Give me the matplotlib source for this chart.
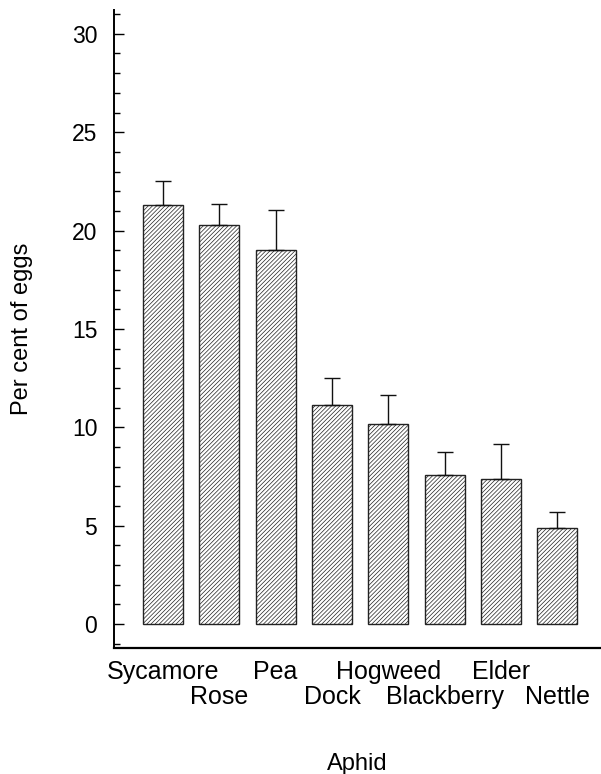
import matplotlib
matplotlib.use("Agg")
import matplotlib.pyplot as plt
from matplotlib.ticker import MultipleLocator

plt.rcParams['font.family'] = ['Liberation Sans', 'DejaVu Sans']
plt.rcParams['hatch.linewidth'] = 0.5
plt.rcParams['hatch.color'] = '#333333'

categories = ["Sycamore", "Rose", "Pea", "Dock", "Hogweed", "Blackberry", "Elder", "Nettle"]
values = [21.3, 20.3, 19.0, 11.15, 10.15, 7.55, 7.35, 4.9]
errors = [1.2, 1.05, 2.05, 1.35, 1.5, 1.2, 1.8, 0.8]

fig = plt.figure(figsize=(6.01, 7.74), dpi=100)
ax = fig.add_axes([0.1897, 0.1628, 0.808, 0.824])

x = list(range(len(categories)))
ax.bar(x, values, width=0.71, color='white', edgecolor='#222222',
       linewidth=1.0, hatch='////////', zorder=2)
ax.errorbar(x, values, yerr=[[0] * len(values), errors], fmt='none',
            ecolor='#111111', elinewidth=1.0, capsize=5.5, capthick=1.0, zorder=3)

ax.set_xlim(-0.869, 7.75)
ax.set_ylim(-1.22, 31.2)

for s in ['top', 'right']:
    ax.spines[s].set_visible(False)
ax.spines['left'].set_linewidth(1.4)
ax.spines['bottom'].set_linewidth(1.6)

ax.yaxis.set_major_locator(MultipleLocator(5))
ax.yaxis.set_minor_locator(MultipleLocator(1))
ax.set_yticks([0, 5, 10, 15, 20, 25, 30])
ax.tick_params(axis='y', which='major', direction='in', length=7.2, width=1.0,
               labelsize=16.5, pad=12)
ax.tick_params(axis='y', which='minor', direction='in', length=4.3, width=1.0)

ax.set_xticks(x)
ax.set_xticklabels([''] * len(x))
ax.tick_params(axis='x', length=0)
trans = ax.get_xaxis_transform()
for i, c in enumerate(categories):
    yrow = -0.0376 if i % 2 == 0 else -0.0768
    ax.text(x[i], yrow, c, transform=trans, ha='center', va='center',
            fontsize=18)

ax.set_ylabel("Per cent of eggs", fontsize=17, labelpad=28)
ax.set_xlabel("Aphid", fontsize=17, labelpad=72)

fig.savefig("out.png", dpi=100)
